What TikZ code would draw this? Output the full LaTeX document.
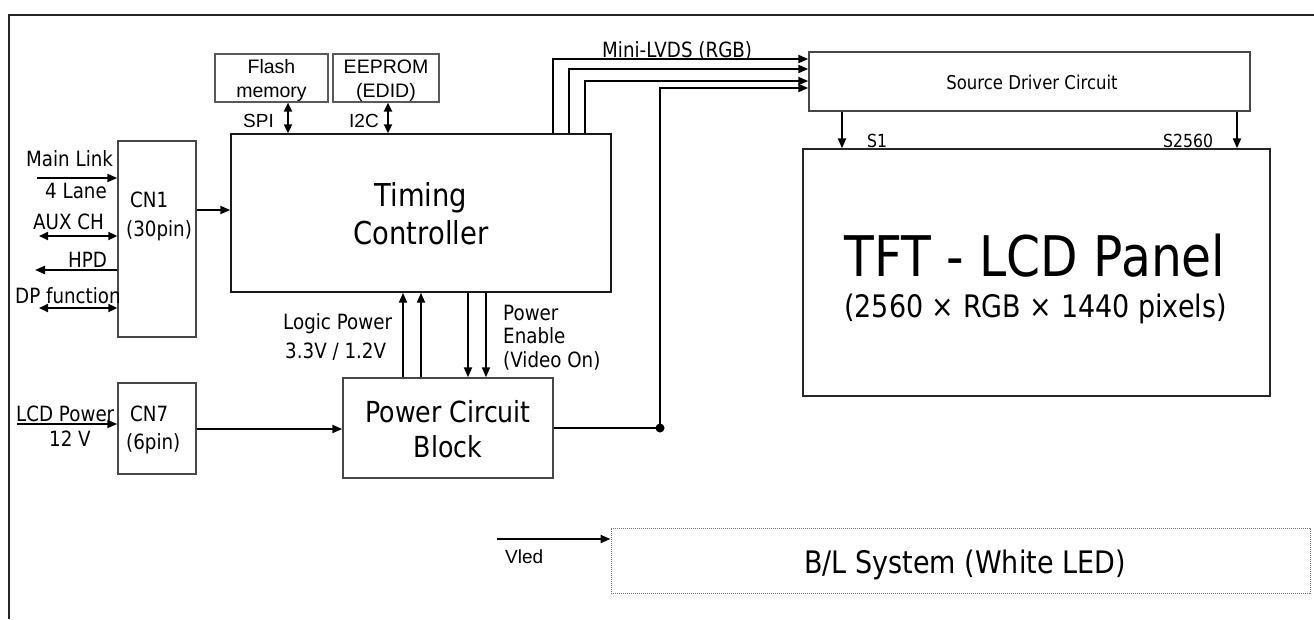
\documentclass[tikz,border=0pt]{standalone}
\usepackage{fontspec}
\setmainfont{DejaVu Sans}[FakeStretch=0.87]
\newfontfamily\arialf{Liberation Sans}
\usetikzlibrary{arrows.meta}
\newcommand{\fsz}[1]{\fontsize{#1}{#1}\selectfont}
\begin{document}
\begin{tikzpicture}[x=1pt,y=-1pt,
  box/.style={draw=black!72, line width=1.4pt, inner sep=0pt},
  thinbox/.style={draw=black!65, line width=1.1pt, inner sep=0pt},
  dotbox/.style={draw=black!55, line width=1pt, dash pattern=on 1.2pt off 0.8pt, inner sep=0pt},
  arr/.style={line width=2pt, -{Triangle[length=10pt,width=8pt]}},
  darr/.style={line width=2pt, {Triangle[length=9pt,width=8pt]}-{Triangle[length=9pt,width=8pt]}},
  lbl/.style={inner sep=0pt, anchor=base west, font=\fsz{21}},
  clbl/.style={inner sep=0pt, anchor=base},
  ]
\useasboundingbox (0,0) rectangle (1314,619);
% outer frame
\draw[line width=2pt, black!85] (9,619) -- (9,15) -- (1314,15);

% boxes
\node[thinbox, minimum width=113pt, minimum height=48pt] (flash) at (271.5,78) {};
\node[thinbox, minimum width=106pt, minimum height=48pt] (eeprom) at (386,78) {};
\node[box, draw=black!90, minimum width=380pt, minimum height=158pt] (timing) at (421,213) {};
\node[box, minimum width=78pt, minimum height=196pt] (cn1) at (157,239) {};
\node[box, minimum width=78pt, minimum height=91pt] (cn7) at (157,428.5) {};
\node[box, minimum width=210pt, minimum height=100pt] (power) at (448,428) {};
\node[box, minimum width=441pt, minimum height=59pt] (source) at (1029.5,81.5) {};
\node[box, draw=black!85, minimum width=467pt, minimum height=247pt] (panel) at (1036.5,272.5) {};
\node[dotbox, minimum width=699pt, minimum height=65pt] (bl) at (960.5,560.5) {};

% texts in boxes
\node[clbl, font=\arialf\fsz{19.5}] (tflash1) at (271.5,73) {Flash};
\node[clbl, font=\arialf\fsz{19.5}] (tflash2) at (271.5,97) {memory};
\node[clbl, font=\arialf\fsz{19.5}] (teep1) at (386,73) {EEPROM};
\node[clbl, font=\arialf\fsz{19.5}] (teep2) at (386,97) {(EDID)};
\node[clbl, font=\fsz{31.5}] (ttim1) at (421,206) {Timing};
\node[clbl, font=\fsz{31.5}] (ttim2) at (421,244) {Controller};
\node[lbl] (tcn1a) at (130,207) {CN1};
\node[lbl] (tcn1b) at (126,236) {(30pin)};
\node[lbl] (tcn7a) at (130,421) {CN7};
\node[lbl] (tcn7b) at (126,449) {(6pin)};
\node[clbl, font=\fsz{29}] (tpow1) at (448,422) {Power Circuit};
\node[clbl, font=\fsz{29}] (tpow2) at (448,457) {Block};
\node[clbl, font=\fsz{19}] (tsrc) at (1032,89) {Source Driver Circuit};
\node[clbl, font=\fsz{56}] (tpan1) at (1035,276) {TFT - LCD Panel};
\node[clbl, font=\fsz{31}] (tpan2) at (1035.5,317) {(2560 × RGB × 1440 pixels)};
\node[clbl, font=\fsz{31}] (tbl) at (965,573) {B/L System (White LED)};

% labels
\node[lbl, font=\arialf\fsz{19}] (tspi) at (243,127) {SPI};
\node[lbl, font=\arialf\fsz{19}] (ti2c) at (349,127) {I2C};
\node[lbl] (tml) at (26,166) {Main Link};
\node[lbl] (t4l) at (45,198) {4 Lane};
\node[lbl] (taux) at (33,229) {AUX CH};
\node[lbl] (thpd) at (68,267) {HPD};
\node[lbl] (tdp) at (15,303) {DP function};
\node[lbl] (tlcd) at (16,421) {LCD Power};
\node[lbl] (t12v) at (49,446) {12 V};
\node[lbl] (tlog1) at (283,329) {Logic Power};
\node[lbl] (tlog2) at (285,358) {3.3V / 1.2V};
\node[lbl] (tpe1) at (503,320) {Power};
\node[lbl] (tpe2) at (503,343) {Enable};
\node[lbl] (tpe3) at (503,367) {(Video On)};
\node[lbl] (tmini) at (602,57) {Mini-LVDS (RGB)};
\node[lbl, font=\fsz{18}] (ts1) at (867,147) {S1};
\node[lbl, font=\fsz{18}] (ts2560) at (1163,147) {S2560};
\node[lbl, font=\arialf\fsz{19}] (tvled) at (505,563) {Vled};

% coordinates for free ends
\coordinate (ml) at (37,178);
\coordinate (aux) at (39,236);
\coordinate (hpd) at (35,270);
\coordinate (dp) at (39,308);
\coordinate (lcd) at (17,424);
\coordinate (vled) at (497,539);
\coordinate (dot) at (660,428);

% left inputs
\draw[arr] (ml) -- (ml -| cn1.west);
\draw[darr] (aux) -- (aux -| cn1.west);
\draw[arr] (hpd -| cn1.west) -- (hpd);
\draw[darr] (dp) -- (dp -| cn1.west);
\draw[arr] (lcd) -- (lcd -| cn7.west);

% CN -> blocks
\draw[arr] (cn1.east |- 0,210) -- (timing.west |- 0,210);
\draw[arr] (cn7.east |- 0,429) -- (power.west |- 0,429);

% memories
\draw[darr] (flash.south -| 288,0) -- (timing.north -| 288,0);
\draw[darr] (eeprom.south -| 388,0) -- (timing.north -| 388,0);

% logic power and power enable
\draw[arr] (power.north -| 403,0) -- (timing.south -| 403,0);
\draw[arr] (power.north -| 421,0) -- (timing.south -| 421,0);
\draw[arr] (timing.south -| 468,0) -- (power.north -| 468,0);
\draw[arr] (timing.south -| 486,0) -- (power.north -| 486,0);

% mini-LVDS
\draw[arr] (timing.north -| 553,0) -- (553,59) -- (source.west |- 0,59);
\draw[arr] (timing.north -| 569,0) -- (569,69) -- (source.west |- 0,69);
\draw[arr] (timing.north -| 585,0) -- (585,81) -- (source.west |- 0,81);

% power to source driver
\draw[line width=2pt] (power.east |- dot) -- (dot);
\draw[arr] (dot) -- (dot |- 0,88) -- (source.west |- 0,88);
\fill (dot) circle (4.5pt);

% source -> panel
\draw[arr] (source.south -| 842,0) -- (panel.north -| 842,0);
\draw[arr] (source.south -| 1237,0) -- (panel.north -| 1237,0);

% Vled
\draw[arr] (vled) -- (vled -| bl.west);
\end{tikzpicture}
\end{document}
